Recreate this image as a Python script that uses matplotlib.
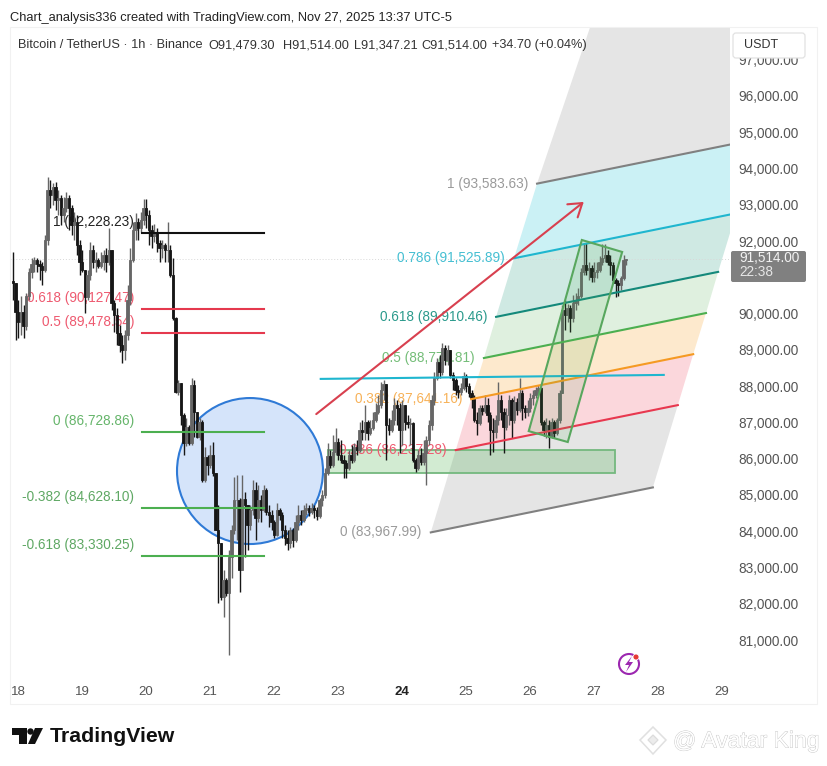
import numpy as np
import matplotlib
matplotlib.use("Agg")
import matplotlib.pyplot as plt
import matplotlib.patheffects as pe
from matplotlib.patches import Ellipse, Polygon, Rectangle, FancyBboxPatch, Circle

plt.rcParams['font.family'] = ['Liberation Sans', 'DejaVu Sans']

# hourly BTCUSDT
closes = [90840,90050,89770,90050,89660,90490,91150,91370,91480,91370,91310,91200,92030,93410,93270,93490,93130,93190,92720,92910,
93190,92910,92440,92530,91890,91420,91200,90460,91070,91750,91420,91480,91310,91420,91620,91420,91750,90290,89960,89470,
89130,89000,89410,90380,91480,92310,92530,92360,92580,92910,92720,92310,92140,92250,91950,91810,91890,91750,91750,91070,
89880,87840,88090,87200,86430,86870,86430,88030,87290,86600,87010,85410,86050,85830,86100,85610,84030,83680,82190,82660,
82300,83290,84030,84860,84860,82930,84890,84720,84170,84590,85140,84370,84860,84590,85140,84530,84450,84250,83900,84590,
84450,84030,83810,83680,84030,83760,84250,84450,84310,84590,84640,84530,84640,84590,84420,84860,85000,85610,86070,85830,
86190,86460,86100,85970,85880,85740,86100,85970,86320,86240,86790,86740,87010,86710,86850,87070,87290,87480,87890,88060,
86930,86790,87070,87480,87400,86790,87480,87010,86960,86980,85970,85740,86100,85910,86160,86520,86930,87620,88230,88670,
88390,89050,88720,89000,88310,88170,87890,87840,87950,88280,88000,87810,87670,87070,86980,87400,87320,87480,87200,86790,
86740,87070,87620,87290,86870,87200,87620,87070,87560,87340,87810,87400,87290,87400,87670,87760,87890,87950,87010,86790,
86930,86600,87010,86710,87070,87810,90100,89960,90160,89880,90290,90380,90490,91150,91340,91200,91260,91010,91150,91200,
91420,91530,91620,91420,91340,90930,90840,90790,90980,91479.30,91514.00]
highs = [91700,90840,90380,90490,90240,90570,91260,91530,91560,91530,91480,91420,92170,93770,93680,93600,93630,93410,93270,93220,
93350,93270,93000,92800,92720,92030,91750,91200,91200,91970,91890,91700,91530,91700,91750,91810,92360,91700,90380,90160,
89690,89410,89550,90790,91810,92530,92770,92640,92800,93160,93160,92860,92440,92470,92360,92030,92030,91950,92530,91890,
91530,89900,88170,88090,87260,87120,86930,88230,88170,87290,87120,87070,86320,86100,86380,86460,85610,84720,83680,82930,
82710,83480,84170,85500,85550,84920,85550,85080,84720,84720,85410,85360,85280,85000,85280,85190,84720,84590,84310,84780,
84640,84530,84170,84030,84120,84090,84450,84720,84590,84720,84780,84720,84780,84720,84660,84920,85140,85740,86430,86240,
86650,86850,86570,86520,86100,85970,86240,86380,86430,86520,87010,87070,87480,87070,87070,87290,87540,87760,88110,88170,
88060,87120,87340,87670,87620,87540,87620,87480,87200,87120,87010,86020,86240,86300,86520,86630,87070,87760,88390,88780,
88860,89190,89130,89130,89000,88390,88230,88030,88090,88390,88340,88090,87890,87760,87290,87480,87480,87760,87670,87290,
87120,87200,88110,87760,87400,87400,87760,87670,87730,87670,88230,87890,87480,87620,87810,87890,87980,88030,87980,87070,
87120,87070,87120,87070,87120,87890,90240,90380,90270,90240,90510,90570,90710,91260,91950,91950,91420,91340,91420,91420,
91590,91920,91920,91750,91620,91420,90980,90930,91040,91620,91514.00]
lows = [90380,89270,89330,89410,89330,89550,90380,90980,91150,91150,90930,90790,91150,91890,92910,93000,92860,92720,92440,92530,
92800,92310,92170,92030,91620,91070,91150,90020,90380,90930,91260,91150,91260,91260,91200,91150,91340,90100,89490,89130,
88940,88640,88720,89270,90240,91420,92030,92030,92250,92440,92360,91890,91810,91970,91700,91420,91530,91420,91420,91010,
89820,87810,87760,86930,86100,86350,86380,86380,86600,86570,86520,85360,85360,85550,85740,85520,84030,82020,82100,81640,
82220,80590,82710,83930,83760,82330,82930,83290,83480,84030,84450,83760,84250,84250,84530,84450,84120,84030,83810,83870,
84310,83810,83620,83480,83540,83570,83700,84030,84170,84250,84450,84420,84480,84370,84310,84370,84700,84920,85550,85740,
85770,86100,85970,85880,85470,85470,85690,85880,85910,86100,86190,86520,86520,86520,86650,86790,87010,87230,87400,87620,
85970,86650,86740,86930,86930,86160,86380,86790,86850,86380,85910,85630,85690,85830,85830,85280,86380,86790,87480,88170,
88230,88310,88580,88580,88230,87890,87760,87670,87760,87890,87840,87700,87400,87010,86650,86930,87200,87260,87010,86100,
86190,86570,86930,87070,86160,86790,86930,86570,86980,87200,87290,87070,87120,87180,87290,87480,87670,87760,86930,86630,
86570,86300,86570,86570,86650,86980,87810,89550,89770,89490,89770,90100,90240,90430,91070,91070,90930,90870,90870,90980,
91150,91340,91420,91340,91070,90840,90460,90490,90650,90930,91347.21]
first_open = 90900
first_candle_day = 17.92

# fib channel on the right
chan_levels = [0, 0.236, 0.382, 0.5, 0.618, 0.786, 1]
chan_prices = [83967.99, 86237.28, 87641.16, 88775.81, 89910.46, 91525.89, 93583.63]
chan_left_day = [24.45, 24.84, 25.08, 25.28, 25.47, 25.75, 26.11]
chan_run_days = 3.47
chan_run_price = 1240
chan_top_day = 27.56
chan_top_price = 101130
chan_line_colors = ['#808080', '#e8384f', '#f59a23', '#4caf50', '#14897b', '#1fb6cf', '#808080']
chan_text_colors = ['#9a9a9a', '#ee5a70', '#f7b259', '#74bd78', '#2b9a8c', '#45bfd2', '#9a9a9a']
chan_fill_colors = ['#e5e5e5', '#fbd7dc', '#fde9cd', '#dff0df', '#cfe9e3', '#cbf1f5', '#e5e5e5']

# fib extension on the left
fib_names = ['1', '0.618', '0.5', '0', '-0.382', '-0.618']
fib_prices = [92228.23, 90127.47, 89478.54, 86728.86, 84628.10, 83330.25]
fib_line_colors = ['#111111', '#e5394e', '#e5394e', '#4caf50', '#4caf50', '#4caf50']
fib_text_colors = ['#222222', '#ee5a70', '#ee5a70', '#66b56b', '#5fa864', '#5fa864']
fib_days = [19.94, 21.84]

# other drawings
circle_center = [21.625, 85660]
circle_size = [2.281, 4025]
cyan_days = [22.73, 28.09]
cyan_prices = [88200, 88310]
arrow_days = [22.66, 26.84]
arrow_prices = [87230, 93080]
zone_days = [22.84, 27.33]
zone_prices = [85610, 86240]
box_days = [26.81, 27.44, 26.59, 25.98]
box_prices = [92030, 91700, 86460, 86760]

x_ticks = [18, 19, 20, 21, 22, 23, 24, 25, 26, 27, 28, 29]
y_ticks = list(range(81000, 98000, 1000))
last_price = 91514.00

header_parts = ['Bitcoin / TetherUS · 1h · Binance', 'O91,479.30', 'H91,514.00', 'L91,347.21', 'C91,514.00', '+34.70 (+0.04%)']
header_px = [18.5, 208, 283, 354, 421, 492]

fig = plt.figure(figsize=(8.28, 7.66), dpi=100, facecolor='white')

# chart area is px 10..730 across, 27..704 down
ax = fig.add_axes([10/828, (766-704)/766, 720/828, 677/766])
ax.set_xlim(17.875, 29.125)
ax.set_ylim(79237, 97902)
for s in ax.spines.values():
    s.set_visible(False)

# channel bands
for k in range(7):
    if k < 6:
        xa, ya = chan_left_day[k], chan_prices[k]
        xb, yb = chan_left_day[k+1], chan_prices[k+1]
    else:
        xa, ya = chan_left_day[6], chan_prices[6]
        xb, yb = chan_top_day, chan_top_price
    ax.fill([xa, xb, xb+chan_run_days, xa+chan_run_days],
            [ya, yb, yb+chan_run_price, ya+chan_run_price],
            color=chan_fill_colors[k], lw=0, zorder=1)

ax.add_patch(Ellipse(circle_center, circle_size[0], circle_size[1], fc='#d5e4fa', ec='#2f7ad6', lw=1.5, zorder=2))
ax.add_patch(Rectangle((zone_days[0], zone_prices[0]), zone_days[1]-zone_days[0], zone_prices[1]-zone_prices[0],
                       fc=(0.30, 0.69, 0.31, 0.25), ec='#74b87e', lw=1.3, zorder=2))

ax.axhline(last_price, color='#d8d8d8', lw=0.7, ls=(0, (1, 2)), zorder=2)

# labels go under the candles
for k in range(7):
    val = f"{chan_levels[k]} ({chan_prices[k]:,.2f})"
    ax.annotate(val, (chan_left_day[k], chan_prices[k]), xytext=(-9, 0), textcoords='offset pixels',
                ha='right', va='center', fontsize=9.8, color=chan_text_colors[k], zorder=3)
for k in range(6):
    val = f"{fib_names[k]} ({fib_prices[k]:,.2f})"
    ax.annotate(val, (fib_days[0], fib_prices[k]), xytext=(-8, 11), textcoords='offset pixels',
                ha='right', va='center', fontsize=9.8, color=fib_text_colors[k], zorder=3)

# candles
closes = np.array(closes, dtype=float)
highs = np.array(highs, dtype=float)
lows = np.array(lows, dtype=float)
opens = np.r_[first_open, closes[:-1]]
days = first_candle_day + np.arange(len(closes))/24
highs = np.maximum(highs, np.maximum(opens, closes))
lows = np.minimum(lows, np.minimum(opens, closes))
colors = np.where(closes >= opens, '#666666', '#161616')
ax.vlines(days, lows, highs, colors=colors, lw=1.0, zorder=4)
ax.bar(days, np.abs(closes-opens), bottom=np.minimum(opens, closes), width=0.036, color=colors, edgecolor=colors, lw=0.6, zorder=5)

# lines on top
for k in range(7):
    ax.plot([chan_left_day[k], chan_left_day[k]+chan_run_days],
            [chan_prices[k], chan_prices[k]+chan_run_price],
            color=chan_line_colors[k], lw=1.5, zorder=6)
for k in range(6):
    ax.plot(fib_days, [fib_prices[k], fib_prices[k]], color=fib_line_colors[k], lw=1.5, zorder=6)
ax.plot(cyan_days, cyan_prices, color='#1fb6cf', lw=1.5, zorder=6)
ax.annotate('', xy=(arrow_days[1], arrow_prices[1]), xytext=(arrow_days[0], arrow_prices[0]),
            arrowprops=dict(arrowstyle='->,head_length=0.9,head_width=0.6', color='#d8404f', lw=1.5, shrinkA=0, shrinkB=0), zorder=6)
ax.add_patch(Polygon(np.c_[box_days, box_prices], closed=True, fc='#4caf50', alpha=0.13, ec='none', zorder=6))
ax.add_patch(Polygon(np.c_[box_days, box_prices], closed=True, fc='none', ec='#58a75e', lw=1.5, zorder=6))

ax.set_xticks(x_ticks)
ax.set_xticklabels([str(t) for t in x_ticks])
ax.tick_params(axis='x', length=0, pad=-13, labelsize=9.5, labelcolor='#555555')
ax.get_xticklabels()[6].set_fontweight('bold')
ax.get_xticklabels()[6].set_color('#222222')
ax.yaxis.tick_right()
ax.set_yticks(y_ticks)
# the 91,000 label sits behind the last price box
ax.set_yticklabels(['' if t == 91000 else f"{t:,.2f}" for t in y_ticks])
ax.tick_params(axis='y', length=0, pad=6, labelsize=9.8, labelcolor='#555555')

# overlay in pixels for the furniture
top = fig.add_axes([0, 0, 1, 1], facecolor='none')
top.set_xlim(0, 828)
top.set_ylim(766, 0)
top.axis('off')

top.add_patch(Rectangle((10, 27), 807, 677, fc='none', ec='#f1f1f1', lw=0.8))
top.text(10.5, 18, 'Chart_analysis336 created with TradingView.com, Nov 27, 2025 13:37 UTC-5',
         fontsize=9.27, color='#222222', va='center')
for part, px in zip(header_parts, header_px):
    top.text(px, 45, part, fontsize=9.2, color='#333333', va='center')

top.add_patch(FancyBboxPatch((733, 33), 72, 25, boxstyle='round,pad=0,rounding_size=3', fc='white', ec='#e2e2e2', lw=0.9))
top.text(744, 45.5, 'USDT', fontsize=9, color='#333333', va='center')

top.add_patch(FancyBboxPatch((731, 251), 75, 31, boxstyle='round,pad=0,rounding_size=2', fc='#808080', ec='none'))
top.text(739, 258, '91,514.00', fontsize=9.8, color='#f2f2f2', va='center')
top.text(739, 272.5, '22:38', fontsize=9.8, color='#e6e6e6', va='center')

# flash icon
top.add_patch(Circle((629, 664), 10, fc='white', ec='#9c27b0', lw=1.5))
top.add_patch(Polygon([[632, 656], [625, 665], [629, 665], [626, 672], [633, 662], [629, 662]], fc='#9c27b0', ec='none'))
top.add_patch(Circle((636, 657), 3, fc='#e53935', ec='white', lw=0.6))

# TradingView logo
top.add_patch(Polygon([[12, 728], [27, 728], [27, 744], [19, 744], [19, 735], [12, 735]], fc='#111111', ec='none'))
top.add_patch(Circle((30.5, 731.5), 3.2, fc='#111111', ec='none'))
top.add_patch(Polygon([[35, 728], [43, 728], [35, 744], [28, 744]], fc='#111111', ec='none'))
top.text(50, 736, 'TradingView', fontsize=15.3, fontweight='bold', color='#111111', va='center')

# watermark
top.add_patch(Polygon([[653, 727], [666, 740], [653, 754], [640, 740]], fc='white', ec='#e0e0e0', lw=1.1))
top.add_patch(Polygon([[653, 735], [658, 740], [653, 745], [648, 740]], fc='#ececec', ec='#dcdcdc', lw=0.9))
wm = top.text(673, 741, '@ Avatar King', fontsize=16.5, color='white', va='center')
wm.set_path_effects([pe.Stroke(linewidth=0.6, foreground='#c4c4c4'), pe.Normal()])

fig.savefig('out.png', dpi=100)
